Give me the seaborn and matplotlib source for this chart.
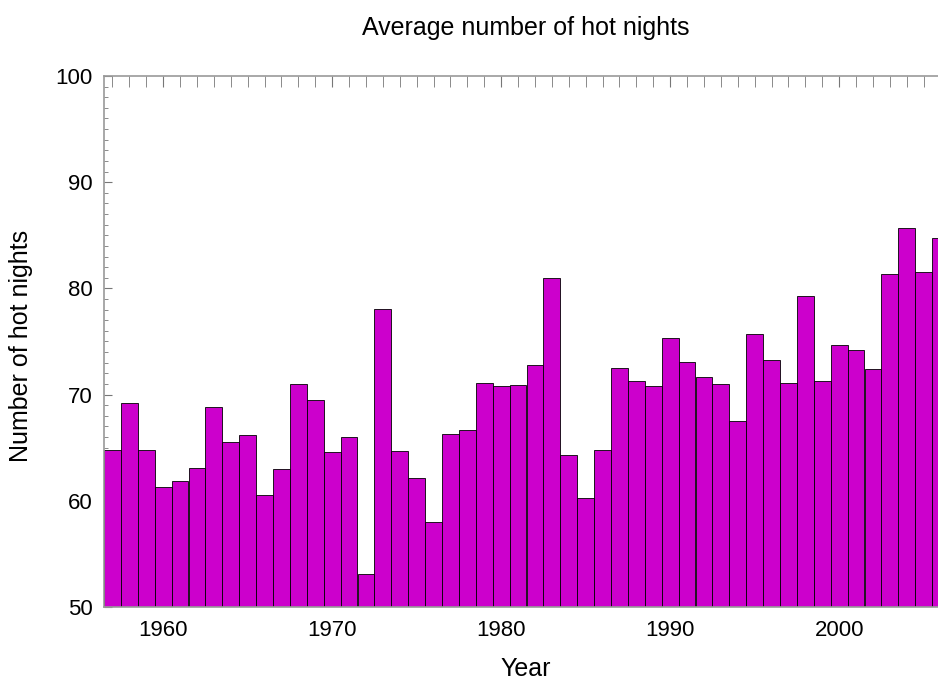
import numpy as np
import pandas as pd
import matplotlib
matplotlib.use('Agg')
import matplotlib.pyplot as plt
import seaborn as sns
from matplotlib.ticker import MultipleLocator

years = list(range(1957, 2007))
hot_nights = [64.8, 69.2, 64.8, 61.3, 61.9, 63.1, 68.8, 65.5, 66.2, 60.5,
              63.0, 71.0, 69.5, 64.6, 66.0, 53.1, 78.05, 64.7, 62.1, 58.05,
              66.3, 66.7, 71.1, 70.85, 70.9, 72.8, 81.0, 64.35, 60.3, 64.8,
              72.5, 71.3, 70.85, 75.3, 73.05, 71.7, 71.0, 67.5, 75.7, 73.3,
              71.1, 79.3, 71.3, 74.7, 74.2, 72.4, 81.4, 85.7, 81.5, 84.7]
year_ticks = [1960, 1970, 1980, 1990, 2000]

df = pd.DataFrame({'year': years, 'nights': hot_nights})

sns.set_style('ticks')
plt.rcParams['font.family'] = ['Liberation Sans', 'DejaVu Sans']
plt.rcParams['text.color'] = 'black'
plt.rcParams['axes.labelcolor'] = 'black'

fig = plt.figure(figsize=(9.38, 6.82), dpi=100)
# axes run past the right edge, like the cropped original
ax = fig.add_axes([104/938, 75/682, 845/938, 531/682])

sns.barplot(data=df, x='year', y='nights', native_scale=True, width=1,
            color='#CC00CC', saturation=1, edgecolor='black', linewidth=0.6, ax=ax)

ax.set_xlim(1956.5, 2006.5)
ax.set_ylim(50, 100)
ax.set_xticks(year_ticks)
ax.xaxis.set_minor_locator(MultipleLocator(1))
ax.yaxis.set_major_locator(MultipleLocator(10))
ax.yaxis.set_minor_locator(MultipleLocator(1))

ax.tick_params(axis='x', which='both', direction='in', top=True, bottom=False,
               labelsize=16, length=8, color='#777777', labelcolor='black', pad=9)
ax.tick_params(axis='y', which='major', direction='in', length=6, color='#777777',
               labelsize=16, labelcolor='black', pad=8)
ax.tick_params(axis='y', which='minor', direction='in', length=3, color='#777777')
for s in ax.spines.values():
    s.set_color('#999999')
    s.set_linewidth(1.2)

ax.set_xlabel('Year', fontsize=18)
ax.xaxis.set_label_coords(0.4994, -0.095)
ax.set_ylabel('Number of hot nights', fontsize=18)
ax.yaxis.set_label_coords(-0.084, 0.4915)
fig.text(526/938, 1 - 28/682, 'Average number of hot nights', fontsize=18,
         ha='center', va='center')

fig.savefig('out.png', dpi=100)
